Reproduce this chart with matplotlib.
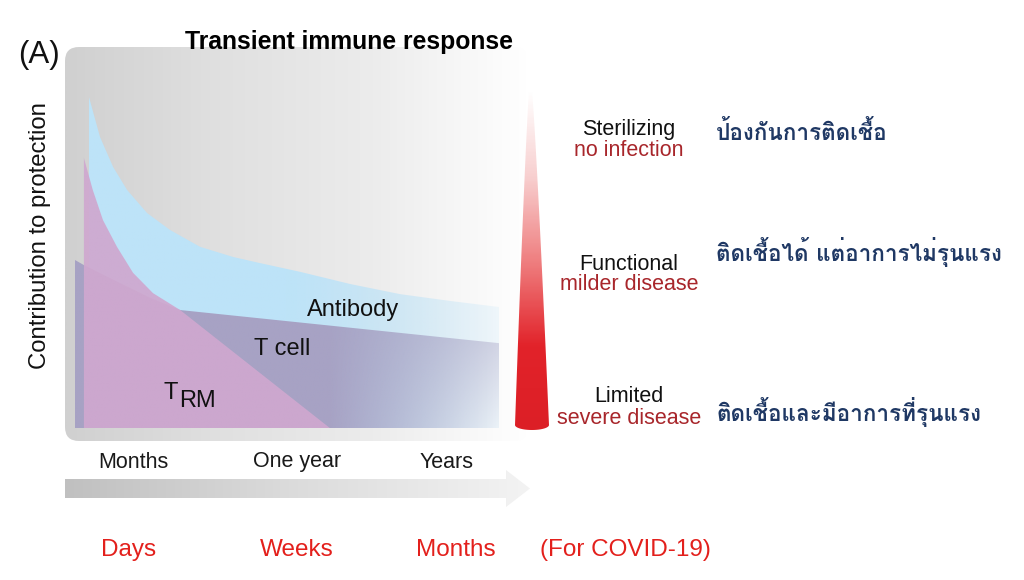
import numpy as np
import matplotlib
matplotlib.use("Agg")
import matplotlib.pyplot as plt
from matplotlib import font_manager as fm, ft2font
from matplotlib.path import Path
from matplotlib.patches import PathPatch, FancyBboxPatch, Polygon
from matplotlib.colors import LinearSegmentedColormap, to_rgb

# --- curves: time (0..1) vs contribution to protection (0..1)
antibody_t = [0.033, 0.059, 0.090, 0.123, 0.170, 0.224, 0.295, 0.373, 0.436, 0.531, 0.649, 0.767, 0.884, 1.0]
antibody_c = [0.979, 0.861, 0.772, 0.704, 0.636, 0.586, 0.536, 0.506, 0.488, 0.462, 0.426, 0.396, 0.376, 0.358]
tcell_t = [0.0, 0.021, 0.106, 0.177, 0.248, 1.0]
tcell_c = [0.497, 0.482, 0.429, 0.385, 0.349, 0.251]
trm_t = [0.021, 0.042, 0.066, 0.099, 0.137, 0.184, 0.248, 0.601]
trm_c = [0.799, 0.704, 0.615, 0.536, 0.459, 0.399, 0.349, 0.0]

time_labels = ["Months", "One year", "Years"]
covid_labels = ["Days", "Weeks", "Months", "(For COVID-19)"]
levels_en = ["Sterilizing", "Functional", "Limited"]
levels_sub = ["no infection", "milder disease", "severe disease"]
levels_th = ["ป้องกันการติดเชื้อ", "ติดเชื้อได้ แต่อาการไม่รุนแรง", "ติดเชื้อและมีอาการที่รุนแรง"]

# find an installed font that has Thai glyphs
thai_fam = None
for f in fm.fontManager.ttflist:
    try:
        if 0x0E01 in ft2font.FT2Font(f.fname).get_charmap():
            thai_fam = f.name
            break
    except Exception:
        pass
thai_family = [thai_fam, "DejaVu Sans"] if thai_fam else ["DejaVu Sans"]

plt.rcParams["font.family"] = ["Liberation Sans", "DejaVu Sans"]

fig = plt.figure(figsize=(10.24, 5.8), dpi=100)
ax = fig.add_axes([0, 0, 1, 1])
ax.axis("off")


def grad_image(axis, patch, img, extent, origin, zorder):
    axis.add_patch(patch)
    im = axis.imshow(img, extent=extent, origin=origin, aspect="auto",
                     interpolation="bilinear", zorder=zorder)
    im.set_clip_path(patch)
    return im


# gray panel behind the curves
panel = FancyBboxPatch((65, 47), 463, 394, boxstyle="round,pad=0,rounding_size=14",
                       facecolor="none", edgecolor="none")
gray = LinearSegmentedColormap.from_list("g", ["#d0d0d0", "#e0e0e0", "#ececec", "#ffffff"])
xs = np.linspace(0, 1, 300)
grad_image(ax, panel, gray(xs)[None, :, :], (65, 528, 441, 47), "upper", 1)

# time arrow
arrow = Polygon([(65, 479), (506, 479), (506, 470), (530, 488.5), (506, 507), (506, 498), (65, 498)],
                closed=True, facecolor="none", edgecolor="none")
agray = LinearSegmentedColormap.from_list("a", ["#c0c0c0", "#dcdcdc", "#f3f3f3"])
grad_image(ax, arrow, agray(xs)[None, :, :], (65, 530, 507, 470), "upper", 1)

# red cone
yy = np.linspace(92, 425, 60)
left = 529 - (529 - 515) * ((yy - 92) / 333) ** 0.85
right = 532 + (549 - 532) * ((yy - 92) / 333) ** 0.85
ang = np.linspace(np.pi, 0, 30)
bot_x = 532 + 17 * np.cos(ang)
bot_y = 425 + 5 * np.sin(ang)
cone_v = np.concatenate([np.column_stack([left, yy]),
                         np.column_stack([bot_x, bot_y]),
                         np.column_stack([right[::-1], yy[::-1]])])
cone = Polygon(cone_v, closed=True, facecolor="none", edgecolor="none")
red = LinearSegmentedColormap.from_list("r", ["#ffffff", "#f8d0d0", "#ef7f80", "#e2232a", "#dc1f26"])
ys = np.linspace(0, 1, 300)
grad_image(ax, cone, red(ys)[:, None, :], (514, 550, 432, 90), "upper", 2)

ax.set_xlim(0, 1024)
ax.set_ylim(580, 0)

# plot area with the response curves
pa = fig.add_axes([75 / 1024, 1 - 428 / 580, 424 / 1024, 338 / 580], zorder=3)
pa.patch.set_visible(False)
pa.axis("off")

T, C = np.meshgrid(np.linspace(0, 1, 240), np.linspace(0, 1, 240))


def region(t, c, color, alpha, z):
    img = np.zeros(T.shape + (4,))
    img[..., :3] = to_rgb(color)
    img[..., 3] = alpha
    patch = PathPatch(Path(np.column_stack([t, c])), facecolor="none", edgecolor="none")
    grad_image(pa, patch, img, (0, 1, 0, 1), "lower", z)


ramp = np.clip((T - 0.5) / 0.5, 0, 1)
ab_alpha = 1 - 0.8 * ramp ** 1.2
region(antibody_t + [1.0, antibody_t[0]], antibody_c + [0.0, 0.0], "#bde3f8", ab_alpha, 2)

ramp_t = np.clip((T - 0.6) / 0.4, 0, 1)
tc_alpha = 1 - ramp_t * (0.45 + 0.5 * np.clip(1 - C / 0.35, 0, 1))
region(tcell_t + [1.0, 0.0], tcell_c + [0.0, 0.0], "#a7a2c4", tc_alpha, 3)

region(trm_t + [trm_t[0]], trm_c + [0.0], "#cfa8cf", np.full(T.shape, 0.93), 4)

pa.set_xlim(0, 1)
pa.set_ylim(0, 1)

pa.text(0.657, 0.35, "Antibody", fontsize=17, ha="center", va="center", zorder=6, color="#111111")
pa.text(0.488, 0.235, "T cell", fontsize=17, ha="center", va="center", zorder=6, color="#111111")
pa.text(0.225, 0.105, "T", fontsize=17, ha="center", va="center", zorder=6, color="#111111")
pa.text(0.246, 0.08, "RM", fontsize=17, ha="left", va="center", zorder=6, color="#111111")

# annotations
ax.text(18, 55, "(A)", fontsize=22.5, ha="left", va="center", color="#111111")
ax.text(349, 42, "Transient immune response", fontsize=17.8, fontweight="bold",
        ha="center", va="center")
ax.text(40, 236, "Contribution to protection", fontsize=17.2, rotation=90,
        ha="center", va="center", color="#111111")

for x, lab in zip([133, 297, 447], time_labels):
    ax.text(x, 462, lab, fontsize=15.5, ha="center", va="center", color="#1a1a1a")
for x, lab in zip([129, 297, 456, 625], covid_labels):
    ax.text(x, 550, lab, fontsize=17.5, ha="center", va="center", color="#e3201c")

for y, en, sub in zip([130, 264, 397], levels_en, levels_sub):
    ax.text(629, y, en, fontsize=15.5, ha="center", va="center", color="#111111")
    ax.text(629, y + 21, sub, fontsize=15.5, ha="center", va="center", color="#a8262b")

for y, th in zip([132, 252, 412], levels_th):
    ax.text(716, y, th, fontsize=16.2, ha="left", va="center", color="#1f3864",
            family=thai_family, fontweight="semibold")

fig.savefig("out.png", dpi=100)
